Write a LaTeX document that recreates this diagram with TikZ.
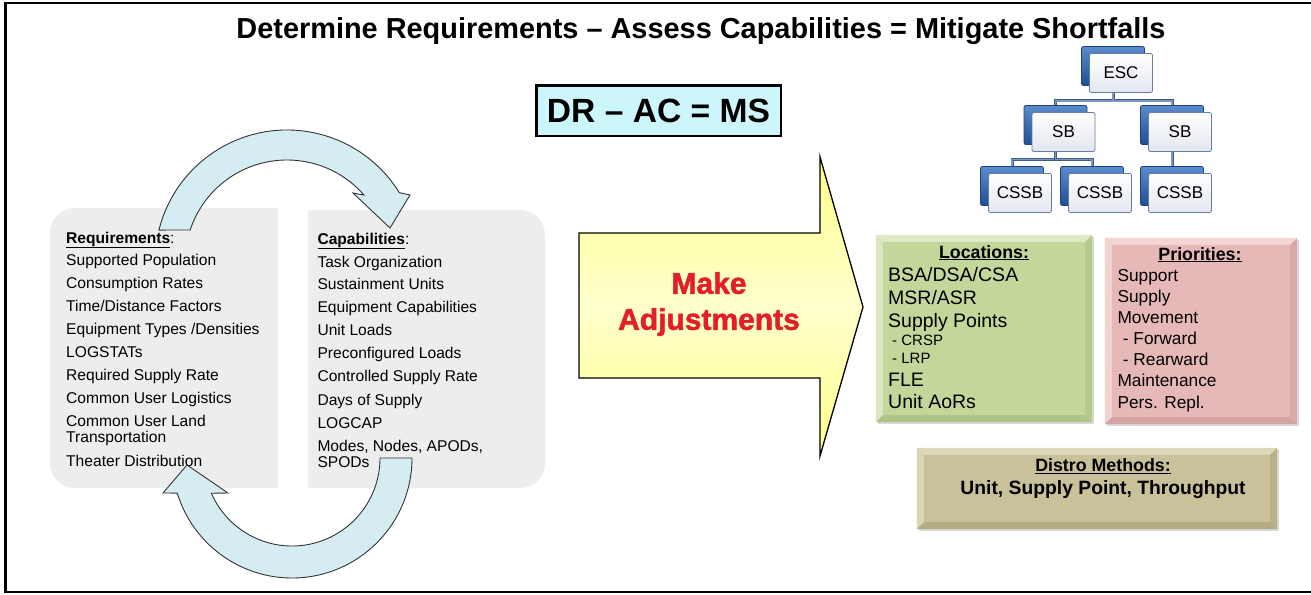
\documentclass[tikz,border=0pt]{standalone}
\usepackage{fontspec}
\setmainfont{Liberation Sans}
\newfontfamily\adjfont{Liberation Sans}[BoldFeatures={FakeBold=1.6}]
\usetikzlibrary{shadows,calc}
\definecolor{panelgray}{RGB}{236,238,238}
\definecolor{cycblue}{RGB}{214,236,243}
\definecolor{drcyan}{RGB}{204,246,252}
\definecolor{arrowyel}{RGB}{255,255,140}
\definecolor{arrowyellt}{RGB}{255,255,205}
\definecolor{adjred}{RGB}{228,30,40}
\definecolor{locgreen}{RGB}{196,215,155}
\definecolor{locgreenlt}{RGB}{222,234,200}
\definecolor{locgreendk}{RGB}{176,196,136}
\definecolor{pripink}{RGB}{230,185,184}
\definecolor{pripinklt}{RGB}{243,214,213}
\definecolor{pripinkdk}{RGB}{212,164,163}
\definecolor{distkhaki}{RGB}{200,193,153}
\definecolor{distkhakilt}{RGB}{222,216,186}
\definecolor{distkhakidk}{RGB}{180,172,130}
\definecolor{orgblue}{RGB}{31,78,145}
\definecolor{orgbluelt}{RGB}{90,140,205}
\definecolor{orgbluedk}{RGB}{30,66,124}
\definecolor{orgfront}{RGB}{226,230,238}
\definecolor{orgedge}{RGB}{100,125,162}
\definecolor{linkcol}{RGB}{62,92,132}
\definecolor{linklt}{RGB}{125,152,190}
\newcommand\bevelize[4]{%
  \fill[#2] (#1.north west) -- (#1.north east) -- ([shift={(-7,7)}]#1.north east) -- ([shift={(7,7)}]#1.north west) -- cycle;
  \fill[#2!85!#3] (#1.north west) -- ([shift={(7,7)}]#1.north west) -- ([shift={(7,-7)}]#1.south west) -- (#1.south west) -- cycle;
  \fill[#4] (#1.south west) -- (#1.south east) -- ([shift={(-7,-7)}]#1.south east) -- ([shift={(7,-7)}]#1.south west) -- cycle;
  \fill[#4!70!#3] (#1.north east) -- ([shift={(-7,7)}]#1.north east) -- ([shift={(-7,-7)}]#1.south east) -- (#1.south east) -- cycle;
}
\begin{document}
\begin{tikzpicture}[x=1pt,y=-1pt,
  lst/.style={anchor=base west, inner sep=0pt, font=\fontsize{15.6}{18}\selectfont},
  locitem/.style={anchor=base west, inner sep=0pt, font=\fontsize{19.5}{22}\selectfont},
  locsub/.style={anchor=base west, inner sep=0pt, font=\fontsize{15}{18}\selectfont},
  priitem/.style={anchor=base west, inner sep=0pt, font=\fontsize{17.3}{20}\selectfont},
  boxhead/.style={anchor=base, inner sep=0pt, font=\bfseries\fontsize{17.8}{20}\selectfont},
  bevel/.style={fill=#1, inner sep=0pt,
    drop shadow={opacity=0.3, shadow xshift=2pt, shadow yshift=-2pt}},
  orgback/.style={draw=orgbluedk, line width=0.8pt, top color=orgbluelt, bottom color=orgblue,
    rounded corners=2pt, minimum width=63pt, minimum height=39pt, inner sep=0pt},
  orgbox/.style={draw=orgedge, line width=0.8pt, top color=white, bottom color=orgfront,
    rounded corners=2pt, minimum width=63pt, minimum height=39pt, inner sep=0pt,
    font=\fontsize{17}{20}\selectfont},
  link/.style={draw=linkcol, line width=0.7pt, double=linklt, double distance=1.6pt},
  cyc/.style={draw=black!80, line width=0.9pt, fill=cycblue},
]
\useasboundingbox (0,0) rectangle (1311,594);
\fill[white] (0,0) rectangle (1311,594);
\draw[line width=2.5pt] (5.3,2.8) rectangle (1313,591.8);

% title
\node[anchor=base, inner sep=0pt, font=\bfseries\fontsize{28.9}{32}\selectfont] (title) at (701,38)
  {Determine Requirements – Assess Capabilities = Mitigate Shortfalls};

% formula box
\node[draw, line width=2.5pt, fill=drcyan, minimum width=244.5pt, minimum height=50.5pt, inner sep=0pt,
  font=\bfseries\fontsize{33.6}{36}\selectfont] (drac) at (658.5,110.5) {DR – AC = MS};

% panels
\fill[panelgray, rounded corners=25pt] (50,208) rectangle (278,488);
\fill[panelgray] (200,208) rectangle (278,488);
\fill[panelgray, rounded corners=25pt] (308,210) rectangle (545,488);
\fill[panelgray] (308,210) rectangle (400,488);

% requirements list
\node[lst] (reqhead) at (66,243) {\textbf{\underline{Requirements}}:};
\foreach \yy/\t [count=\i] in {265/Supported Population, 288/Consumption Rates, 311/{Time/Distance Factors},
  334/{Equipment Types /Densities}, 357/LOGSTATs, 380/Required Supply Rate, 403/Common User Logistics,
  426/Common User Land, 442/Transportation, 466/Theater Distribution}
  \node[lst] (req\i) at (66,\yy) {\t};

% capabilities list
\node[lst] (caphead) at (317.3,244) {\textbf{\underline{Capabilities}}:};
\foreach \yy/\t [count=\i] in {267/Task Organization, 289/Sustainment Units, 312/Equipment Capabilities,
  335/Unit Loads, 358/Preconfigured Loads, 381.7/Controlled Supply Rate, 405/Days of Supply,
  428/LOGCAP, 451/{Modes, Nodes, APODs,}, 467/SPODs}
  \node[lst] (cap\i) at (317.3,\yy) {\t};

% cycle arrows
\coordinate (c1) at (287,262);
\draw[cyc] ($(c1)+(194:132)$) arc[start angle=194, end angle=328.3, radius=132]
  -- (410,195) -- (390,228) -- (353,193) -- ($(c1)+(319:102)$)
  arc[start angle=319, end angle=198.3, radius=102] -- cycle;
\coordinate (c2) at (292,458);
\draw[cyc] ($(c2)+(0:120)$) arc[start angle=0, end angle=163, radius=120]
  -- (163,493) -- (187,465) -- (228,493) -- ($(c2)+(156.4:88)$)
  arc[start angle=156.4, end angle=0, radius=88] -- cycle;

% big arrow
\path[draw=black, line width=1.3pt, top color=arrowyel, bottom color=arrowyel, middle color=arrowyellt]
  (579,233) -- (820,233) -- (820,157) -- (863,307) -- (820,456) -- (820,378) -- (579,378) -- cycle;
\node[align=center, inner sep=0pt, text=adjred, font=\adjfont\bfseries\fontsize{30}{36}\selectfont] (adj)
  at (709,304) {Make\\Adjustments};

% org chart
\node[orgback] (escb) at (1113,66) {};
\node[orgback] (sblb) at (1055.5,125) {};
\node[orgback] (sbrb) at (1172,125) {};
\node[orgback] (cs1b) at (1012,186) {};
\node[orgback] (cs2b) at (1092,186) {};
\node[orgback] (cs3b) at (1172,186) {};
\draw[link] (escb.south) -- ++(0,15) -| (sblb.north);
\draw[link] (escb.south) -- ++(0,15) -| (sbrb.north);
\draw[link] (sblb.south) -- ++(0,14.5) -| (cs1b.north);
\draw[link] (sblb.south) -- ++(0,14.5) -| (cs2b.north);
\draw[link] (sbrb.south) -- (cs3b.north);
\node[orgbox] (esc) at (1121,73) {ESC};
\node[orgbox] (sbl) at (1063.5,132) {SB};
\node[orgbox] (sbr) at (1180,132) {SB};
\node[orgbox] (cs1) at (1020,193) {CSSB};
\node[orgbox] (cs2) at (1100,193) {CSSB};
\node[orgbox] (cs3) at (1180,193) {CSSB};

% locations
\node[bevel=locgreen, minimum width=216pt, minimum height=187pt] (loc) at (984,328.5) {};
\bevelize{loc}{locgreenlt}{locgreen}{locgreendk}
\node[boxhead] (lochead) at (984,258) {\underline{Locations:}};
\foreach \yy/\t [count=\i] in {281/{BSA/DSA/CSA}, 304/{MSR/ASR}, 327/Supply Points, 386/FLE, 408/Unit AoRs}
  \node[locitem] (loc\i) at (888,\yy) {\t};
\node[locsub] (crsp) at (892,345) {- CRSP};
\node[locsub] (lrp) at (892,363) {- LRP};

% priorities
\node[bevel=pripink, minimum width=192pt, minimum height=186pt] (pri) at (1201,331) {};
\bevelize{pri}{pripinklt}{pripink}{pripinkdk}
\node[boxhead] (prihead) at (1200,260) {\underline{Priorities:}};
\foreach \yy/\t [count=\i] in {281/Support, 302/Supply, 323/Movement, 386.7/Maintenance, 408/Pers. Repl.}
  \node[priitem] (pri\i) at (1117.3,\yy) {\t};
\node[priitem] (fwd) at (1122.7,344) {- Forward};
\node[priitem] (rwd) at (1122.7,365.7) {- Rearward};

% distro
\node[bevel=distkhaki, minimum width=360pt, minimum height=81pt] (dist) at (1097,488.5) {};
\bevelize{dist}{distkhakilt}{distkhaki}{distkhakidk}
\node[boxhead] (disthead) at (1103,471.7) {\underline{Distro Methods:}};
\node[anchor=base, inner sep=0pt, font=\bfseries\fontsize{19.3}{22}\selectfont] (distitems) at (1103,494)
  {Unit, Supply Point, Throughput};
\end{tikzpicture}
\end{document}
